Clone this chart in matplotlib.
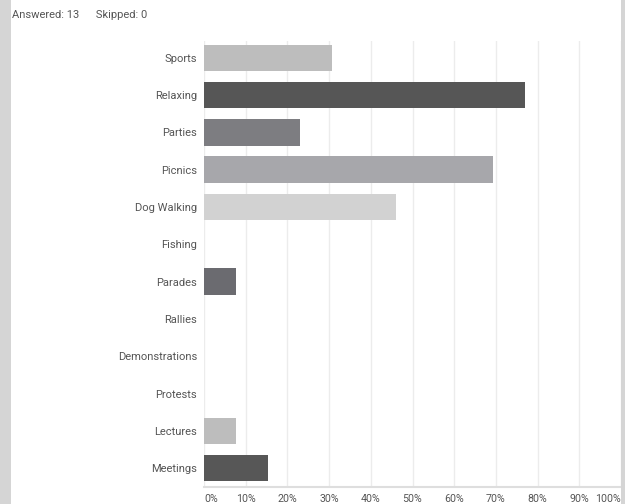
import matplotlib
matplotlib.use("Agg")
import matplotlib.pyplot as plt
from matplotlib.patches import Rectangle

categories = ["Sports", "Relaxing", "Parties", "Picnics", "Dog Walking", "Fishing",
              "Parades", "Rallies", "Demonstrations", "Protests", "Lectures", "Meetings"]
percent = [30.77, 76.92, 23.08, 69.23, 46.15, 0.0, 7.69, 0.0, 0.0, 0.0, 7.69, 15.38]
bar_colors = ["#bdbdbd", "#565656", "#7d7d81", "#a7a7ab", "#d2d2d2", "#bdbdbd",
              "#6b6b70", "#bdbdbd", "#bdbdbd", "#bdbdbd", "#bdbdbd", "#575757"]
tick_values = list(range(0, 101, 10))
tick_labels = [f"{v}%" for v in tick_values]
answered, skipped = 13, 0

text_color = "#555555"
plt.rcParams["font.family"] = ["Roboto", "DejaVu Sans"]

fig = plt.figure(figsize=(6.25, 5.04), dpi=100)
fig.patch.set_facecolor("white")

# gray frame strips on both sides of the panel
fig.add_artist(Rectangle((0, 0), 11 / 625, 1, transform=fig.transFigure,
                         facecolor="#d5d5d5", edgecolor="none", zorder=10))
fig.add_artist(Rectangle((621 / 625, 0), 4 / 625, 1, transform=fig.transFigure,
                         facecolor="#d5d5d5", edgecolor="none", zorder=10))

fig.text(12 / 625, 1 - 15 / 504, f"Answered: {answered}      Skipped: {skipped}",
         fontsize=8.0, color=text_color, ha="left", va="center")

ax = fig.add_axes([204 / 625, 1 - 486.5 / 504, 417 / 625, 445.5 / 504])
y = list(range(len(categories)))
ax.barh(y, percent, height=0.71, color=bar_colors, zorder=3)
ax.set_xlim(0, 100)
ax.set_ylim(11.49, -0.45)

ax.set_yticks(y)
ax.set_yticklabels(categories, fontsize=8.0, color=text_color)
ax.set_xticks(tick_values)
ax.set_xticklabels(tick_labels, fontsize=7.7, color=text_color)
xl = ax.get_xticklabels()
xl[0].set_ha("left")
xl[-1].set_ha("right")
ax.tick_params(axis="y", length=0, pad=5)
ax.tick_params(axis="x", length=0, pad=5.5)

ax.grid(axis="x", color="#ececec", linewidth=1, zorder=0)
for side in ("top", "right", "left"):
    ax.spines[side].set_visible(False)
ax.spines["bottom"].set_color("#dedede")
ax.spines["bottom"].set_linewidth(1.5)

fig.savefig("out.png", dpi=100, facecolor="white")
